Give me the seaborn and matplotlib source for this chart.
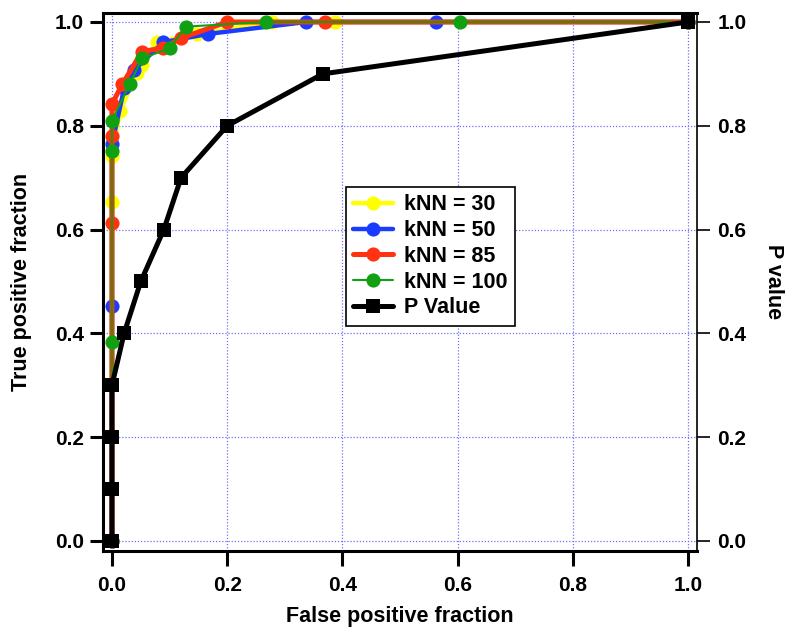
import matplotlib
matplotlib.use("Agg")
import matplotlib.pyplot as plt
import seaborn as sns
import pandas as pd

# ROC curves for several neighbourhood sizes (false/true positive fractions)
fpr_30 = [0.0, 0.0, 0.0, 0.014, 0.043, 0.052, 0.079, 0.147, 0.277, 0.388, 1.0]
tpr_30 = [0.0, 0.653, 0.741, 0.829, 0.901, 0.917, 0.962, 0.976, 1.0, 1.0, 1.0]

fpr_50 = [0.0, 0.0, 0.0, 0.021, 0.038, 0.089, 0.167, 0.337, 0.562, 1.0]
tpr_50 = [0.0, 0.453, 0.764, 0.872, 0.907, 0.961, 0.977, 1.0, 1.0, 1.0]

fpr_85 = [0.0, 0.0, 0.0, 0.0, 0.018, 0.052, 0.089, 0.12, 0.2, 0.369, 1.0]
tpr_85 = [0.0, 0.613, 0.780, 0.842, 0.880, 0.943, 0.950, 0.969, 1.0, 1.0, 1.0]

fpr_100 = [0.0, 0.0, 0.0, 0.0, 0.031, 0.052, 0.10, 0.128, 0.267, 0.604, 1.0]
tpr_100 = [0.0, 0.384, 0.752, 0.810, 0.881, 0.930, 0.949, 0.991, 1.0, 1.0, 1.0]

# P-value thresholds (right axis) against the false positive fraction
fpr_p = [0.0, 0.0, 0.0, 0.0, 0.021, 0.05, 0.09, 0.12, 0.2, 0.366, 1.0]
p_value = [0.0, 0.1, 0.2, 0.3, 0.4, 0.5, 0.6, 0.7, 0.8, 0.9, 1.0]

series_names = ["kNN = 30", "kNN = 50", "kNN = 85", "kNN = 100"]
series_colors = ["#FFFF00", "#1A3CFF", "#FF3311", "#11A011"]
series_widths = [3.2, 3.2, 3.6, 1.5]
tick_values = [0.0, 0.2, 0.4, 0.6, 0.8, 1.0]
tick_labels = ["0.0", "0.2", "0.4", "0.6", "0.8", "1.0"]

sns.set_style("white")
plt.rcParams["font.family"] = ["Liberation Sans", "DejaVu Sans"]
plt.rcParams["font.weight"] = "bold"
for key in ("text.color", "axes.labelcolor", "xtick.color", "ytick.color",
            "axes.edgecolor"):
    plt.rcParams[key] = "black"

fig = plt.figure(figsize=(7.9, 6.27), dpi=100)
ax = fig.add_axes([103 / 790, 1 - 551 / 627, 594 / 790, 538 / 627])
ax2 = ax.twinx()

curves = [(fpr_30, tpr_30), (fpr_50, tpr_50), (fpr_85, tpr_85), (fpr_100, tpr_100)]
handles = []
for (fx, ty), name, col, lw in zip(curves, series_names, series_colors, series_widths):
    df = pd.DataFrame({"fpr": fx, "tpr": ty})
    sns.lineplot(data=df, x="fpr", y="tpr", ax=ax, sort=False, estimator=None,
                 color=col, linewidth=lw, marker="o", markersize=10.2,
                 markeredgewidth=0, label=name, legend=False)
    handles.append(ax.lines[-1])

dfp = pd.DataFrame({"fpr": fpr_p, "p": p_value})
sns.lineplot(data=dfp, x="fpr", y="p", ax=ax2, sort=False, estimator=None,
             color="black", linewidth=3.6, marker="s", markersize=9.8,
             markeredgewidth=0, label="P Value", legend=False)
handles.append(ax2.lines[-1])

lims = (-0.0156, 1.0156)
ylims = (-0.0193, 1.0173)
ax.set_xlim(*lims)
ax.set_ylim(*ylims)
ax2.set_ylim(*ylims)

for a in (ax, ax2):
    a.set_yticks(tick_values)
    a.set_yticklabels(tick_labels)
ax.set_xticks(tick_values)
ax.set_xticklabels(tick_labels)

ax.grid(True, color="#7070F8", linestyle=(0, (1, 1.5)), linewidth=0.9)
ax2.grid(False)

ax.set_xlabel("False positive fraction", fontsize=15.5, fontweight="bold", labelpad=8)
ax.set_ylabel("True positive fraction", fontsize=15.5, fontweight="bold", labelpad=17)
ax2.set_ylabel("P value", fontsize=15.5, fontweight="bold", rotation=270,
               labelpad=27)

ax.tick_params(axis="x", direction="out", length=11, width=2.2, pad=7,
               labelsize=15, bottom=True, top=False, colors="black")
ax.tick_params(axis="y", direction="out", length=9.5, width=2.2, pad=4,
               labelsize=15, left=True, right=False, colors="black")
ax2.tick_params(axis="y", direction="out", length=9.5, width=1.2, pad=5,
                labelsize=15, right=True, colors="black")
for lab in ax.get_xticklabels() + ax.get_yticklabels() + ax2.get_yticklabels():
    lab.set_fontweight("bold")

for s in ("left", "bottom", "top"):
    ax.spines[s].set_linewidth(2.2)
    ax.spines[s].set_color("black")
    ax2.spines[s].set_visible(False)
ax.spines["right"].set_visible(False)
ax2.spines["right"].set_linewidth(1.2)
ax2.spines["right"].set_color("black")

leg = ax2.legend(handles=handles, labels=series_names + ["P Value"],
                 loc="upper left", bbox_to_anchor=(0.409, 0.677),
                 borderaxespad=0, frameon=True, fancybox=False,
                 framealpha=1, edgecolor="black", handlelength=1.85,
                 handletextpad=0.5, labelspacing=0.22, borderpad=0.35,
                 prop={"size": 15.5, "weight": "bold"})
leg.get_frame().set_linewidth(1.2)
for t in leg.get_texts():
    t.set_color("black")

fig.savefig("out.png", dpi=100)
